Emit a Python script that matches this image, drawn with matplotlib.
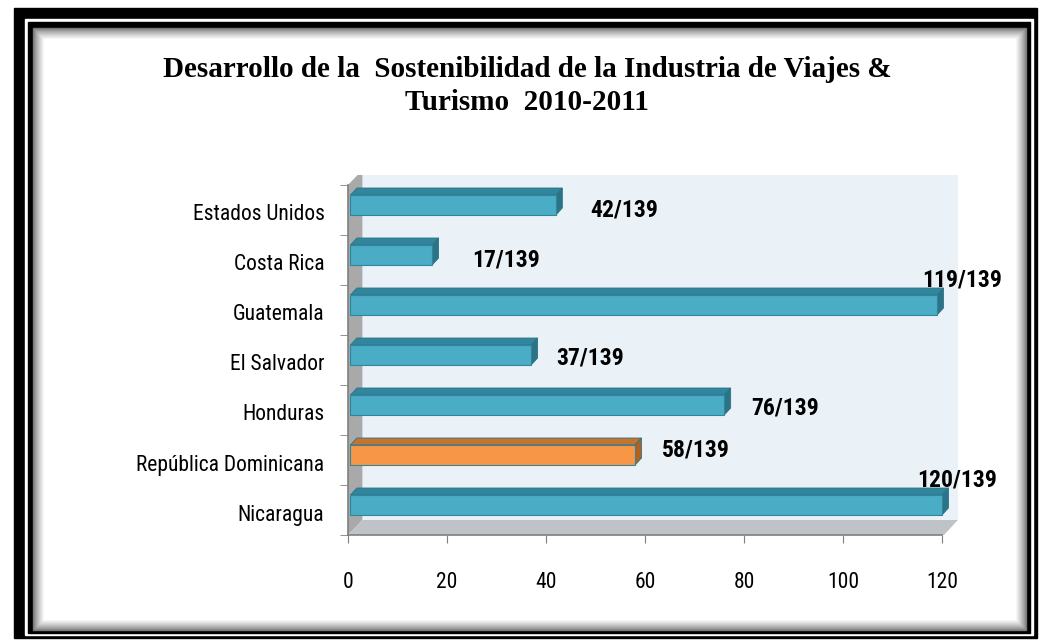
import matplotlib
matplotlib.use('Agg')
import matplotlib.pyplot as plt
from matplotlib import font_manager
from matplotlib.patches import Rectangle, Polygon

# data (top to bottom as in the chart)
countries = ['Estados Unidos', 'Costa Rica', 'Guatemala', 'El Salvador',
             'Honduras', 'República Dominicana', 'Nicaragua']
ranks = [42, 17, 119, 37, 76, 58, 120]
total = 139
highlight = 'República Dominicana'
xticks = [0, 20, 40, 60, 80, 100, 120]

# label offsets (dx, dy) from bar end, in data units
label_off = [(7, -0.1), (8, -0.1), (-3, 0.5), (5, -0.05),
             (5.5, -0.05), (5.5, 0.1), (-5, 0.5)]

title = ('Desarrollo de la  Sostenibilidad de la Industria de Viajes &\n'
         'Turismo  2010-2011')

installed = {f.name for f in font_manager.fontManager.ttflist}
narrow = [f for f in ['Liberation Sans Narrow', 'Roboto Condensed',
                      'Open Sans Condensed', 'DejaVu Sans Condensed']
          if f in installed] + ['DejaVu Sans']
cond = narrow[0] != 'DejaVu Sans'
lab_fs = 15.5 if cond else 13
val_fs = 17 if cond else 14

blue, blue_top, blue_side = '#4BACC6', '#31859C', '#2B7386'
orng, orng_top, orng_side = '#F79646', '#C5742F', '#B0621F'

fig = plt.figure(figsize=(10.4, 6.41), dpi=100)

# frame around the picture (pixel coordinates)
bg = fig.add_axes([0, 0, 1, 1], zorder=-10)
bg.set_xlim(0, 1040)
bg.set_ylim(641, 0)
bg.axis('off')
bg.add_patch(Rectangle((14, 8), 1023, 630, color='black'))
bg.add_patch(Rectangle((25, 19), 1008, 616, color='white'))
bg.add_patch(Rectangle((28, 22), 1002, 611, color='black'))
steps = 12
for k in range(steps):
    g = 0.35 + 0.65 * ((k + 1) / steps) ** 0.7
    bg.add_patch(Rectangle((33 + k, 28 + k), 993 - 2 * k, 602 - 2 * k,
                           color=(g, g, g)))

fig.text(0.507, 0.866, title, ha='center', va='center', fontsize=21,
         family='Liberation Serif', fontweight='bold', linespacing=1.25)

ax = fig.add_axes([340.08 / 1040, 93 / 641, 624.7 / 1040, 373 / 641])
ax.set_xlim(-1.6, 124.6)
ax.set_ylim(-0.86, 6.6)
ax.patch.set_alpha(0)

n = len(countries)
ys = [n - 1 - i for i in range(n)]
base = -0.6
top = n - 0.6
wdx, wdy = 2.9, 0.3  # wall depth

# back wall, left wall and floor
ax.add_patch(Polygon([(wdx, base + wdy), (123.2, base + wdy),
                      (123.2, top + wdy), (wdx, top + wdy)],
                     closed=True, fc='#EAF2F8', ec='none', zorder=0))
ax.add_patch(Polygon([(0, base), (wdx, base + wdy), (wdx, top + wdy), (0, top)],
                     closed=True, fc='#A9A9A9', ec='none', zorder=1))
ax.add_patch(Polygon([(0, base), (120.4, base), (123.2, base + wdy),
                      (wdx, base + wdy)],
                     closed=True, fc='#BFC2C6', ec='none', zorder=1))

h = 0.4
bdx, bdy = 1.3, 0.14
for y, name, v in zip(ys, countries, ranks):
    if name == highlight:
        fc, tc, sc = orng, orng_top, orng_side
    else:
        fc, tc, sc = blue, blue_top, blue_side
    x0 = 0.5
    y0, y1 = y - h / 2, y + h / 2
    ax.add_patch(Polygon([(x0, y1), (v, y1), (v + bdx, y1 + bdy),
                          (x0 + bdx, y1 + bdy)], closed=True, fc=tc,
                         ec=blue_side, lw=0.6, zorder=3))
    ax.add_patch(Polygon([(v, y0), (v + bdx, y0 + bdy), (v + bdx, y1 + bdy),
                          (v, y1)], closed=True, fc=sc, ec=blue_side,
                         lw=0.6, zorder=3))
    ax.barh(y, v - x0, left=x0, height=h, color=fc, edgecolor=blue_top,
            lw=0.8, zorder=4)

for y, v, (dx, dy) in zip(ys, ranks, label_off):
    ax.text(v + dx, y + dy, f'{v}/{total}', ha='left', va='center',
            fontsize=val_fs, fontweight='bold', family=narrow, zorder=6)

for s in ['top', 'right']:
    ax.spines[s].set_visible(False)
ax.spines['left'].set_position(('data', 0))
ax.spines['bottom'].set_position(('data', base))
ax.spines['left'].set_bounds(base, top)
ax.spines['bottom'].set_bounds(0, 120)
for s in ['left', 'bottom']:
    ax.spines[s].set_color('#7F7F7F')
    ax.spines[s].set_linewidth(1.2)
    ax.spines[s].set_zorder(5)

ax.set_xticks(xticks)
ax.set_xticklabels([str(t) for t in xticks], family=narrow, fontsize=lab_fs)
ax.tick_params(axis='x', direction='out', length=6, color='#7F7F7F',
               pad=21)
ax.set_yticks([y - 0.15 for y in ys])
ax.set_yticklabels(countries, family=narrow, fontsize=lab_fs)
ax.set_yticks([i + base for i in range(n + 1)], minor=True)
ax.tick_params(axis='y', which='major', length=0, pad=17)
ax.tick_params(axis='y', which='minor', direction='out', length=6,
               color='#7F7F7F')

fig.savefig('out.png', dpi=100)
